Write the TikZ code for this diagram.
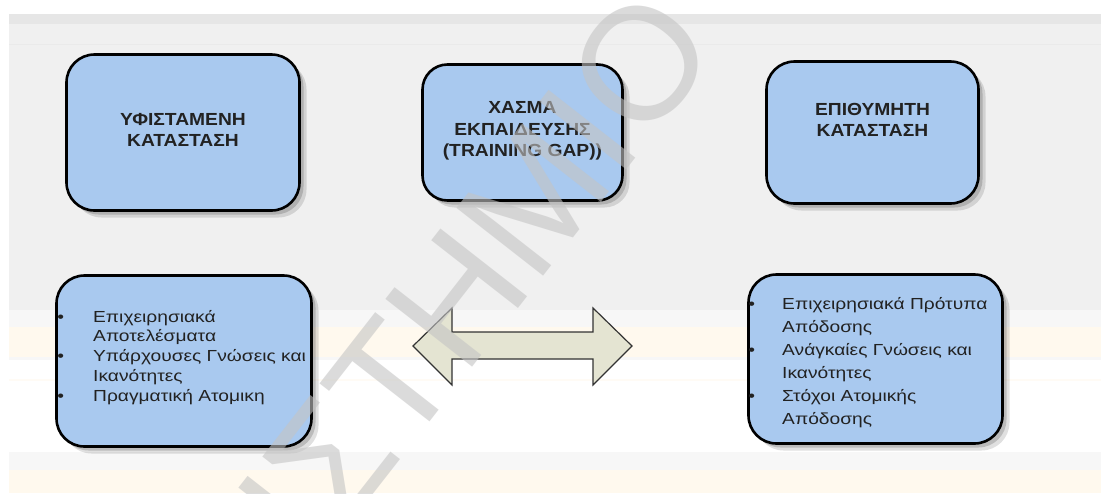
\documentclass[tikz,border=0pt]{standalone}
\usepackage{fontspec}
\setmainfont{Liberation Sans}
\newfontfamily\titlefont{Liberation Sans}[FakeStretch=1.1]
\newfontfamily\listfont{Liberation Sans}[FakeStretch=1.2]
\usetikzlibrary{shadows}

\definecolor{boxblue}{HTML}{A9C9EF}
\definecolor{arrowfill}{HTML}{E4E4D2}
\definecolor{bandA}{HTML}{E6E6E6}
\definecolor{bandB}{HTML}{F0F0F0}
\definecolor{bandC}{HTML}{F7F7F7}
\definecolor{bandD}{HTML}{EAEAEA}
\definecolor{cream}{HTML}{FFF9EE}
\definecolor{ink}{HTML}{222222}
\definecolor{wmgray}{HTML}{C4C4C4}

% bullet hung to the left of a list line
\newcommand\hangbullet[1]{\llap{\textbullet\hspace{#1}}}

\tikzset{
  box/.style={draw=black, line width=2.6pt, rounded corners=28pt, fill=boxblue,
    inner sep=0pt,
    drop shadow={shadow xshift=7pt, shadow yshift=-7pt, opacity=.12, fill=black},
    drop shadow={shadow xshift=4pt, shadow yshift=-4pt, opacity=.16, fill=black}},
  title/.style={align=center, text=ink, inner sep=0pt,
    font=\titlefont\bfseries\fontsize{17.5}{21.5}\selectfont},
  listL/.style={align=left, text=ink, inner sep=0pt, anchor=base west,
    font=\listfont\fontsize{16}{19.7}\selectfont},
  listR/.style={align=left, text=ink, inner sep=0pt, anchor=base west,
    font=\listfont\fontsize{16}{23}\selectfont},
  wmark/.style={text=wmgray, text opacity=.6, inner sep=0pt,
    font=\fontsize{160}{160}\selectfont},
}

\begin{document}
\begin{tikzpicture}[x=1pt,y=-1pt]
\useasboundingbox (0,0) rectangle (1101,493);
\clip (0,0) rectangle (1101,493);

% page background bands
\fill[white] (0,0) rectangle (1101,493);
\fill[bandA] (9,14) rectangle (1101,24);
\fill[bandB] (9,24) rectangle (1101,310);
\fill[bandD] (9,43.5) rectangle (1101,45);
\fill[bandC] (9,310) rectangle (1101,327);
\fill[cream] (9,327) rectangle (1101,357);
\fill[bandC] (9,357) rectangle (1101,360);
\fill[cream!60] (9,379) rectangle (1101,381);
\fill[bandC] (9,452) rectangle (1101,470);
\fill[cream] (9,470) rectangle (1101,493);

% top row
\node[box, minimum width=233pt, minimum height=156pt] (cur) at (183,132.5) {};
\node[box, minimum width=200pt, minimum height=136pt, rounded corners=25pt] (gap) at (522.5,132.5) {};
\node[box, minimum width=212pt, minimum height=142pt] (des) at (872.5,132.5) {};

\node[title] (curT) at (183,130) {ΥΦΙΣΤΑΜΕΝΗ\\ΚΑΤΑΣΤΑΣΗ};
\node[title] (gapT) at (522.5,131) {ΧΑΣΜΑ\\ΕΚΠΑΙΔΕΥΣΗΣ\\(TRAINING GAP))};
\node[title] (desT) at (872.5,120) {ΕΠΙΘΥΜΗΤΗ\\ΚΑΤΑΣΤΑΣΗ};

% bottom row
\node[box, minimum width=255pt, minimum height=171pt] (curL) at (184,361) {};
\node[box, minimum width=254pt, minimum height=169pt] (desL) at (875.5,359) {};

% multi-line nodes sit on the baseline of their last line
\node[listL] (curTxt) at (93,401) {%
  \hangbullet{29pt}Επιχειρησιακά\\
  Αποτελέσματα\\
  \hangbullet{29pt}Υπάρχουσες Γνώσεις και\\
  Ικανότητες\\
  \hangbullet{29pt}Πραγματική Ατομικη};
\node[listR] (desTxt) at (782,424) {%
  \hangbullet{27pt}Επιχειρησιακά Πρότυπα\\
  Απόδοσης\\
  \hangbullet{27pt}Ανάγκαίες Γνώσεις και\\
  Ικανότητες\\
  \hangbullet{27pt}Στόχοι Ατομικής\\
  Απόδοσης};

% double-headed block arrow between the two lists
\draw[fill=arrowfill, draw=black!80, line width=1.2pt, line join=miter]
  (413,346) -- (452,308) -- (452,332) -- (593,332) -- (593,308) -- (632,346)
  -- (593,385) -- (593,359) -- (452,359) -- (452,385) -- cycle;

% watermark
\node[wmark, rotate=52, anchor=base east] (wm) at (722,48) {ΠΑΝΕΠΙΣΤΗΜΙΟ};
\end{tikzpicture}
\end{document}
